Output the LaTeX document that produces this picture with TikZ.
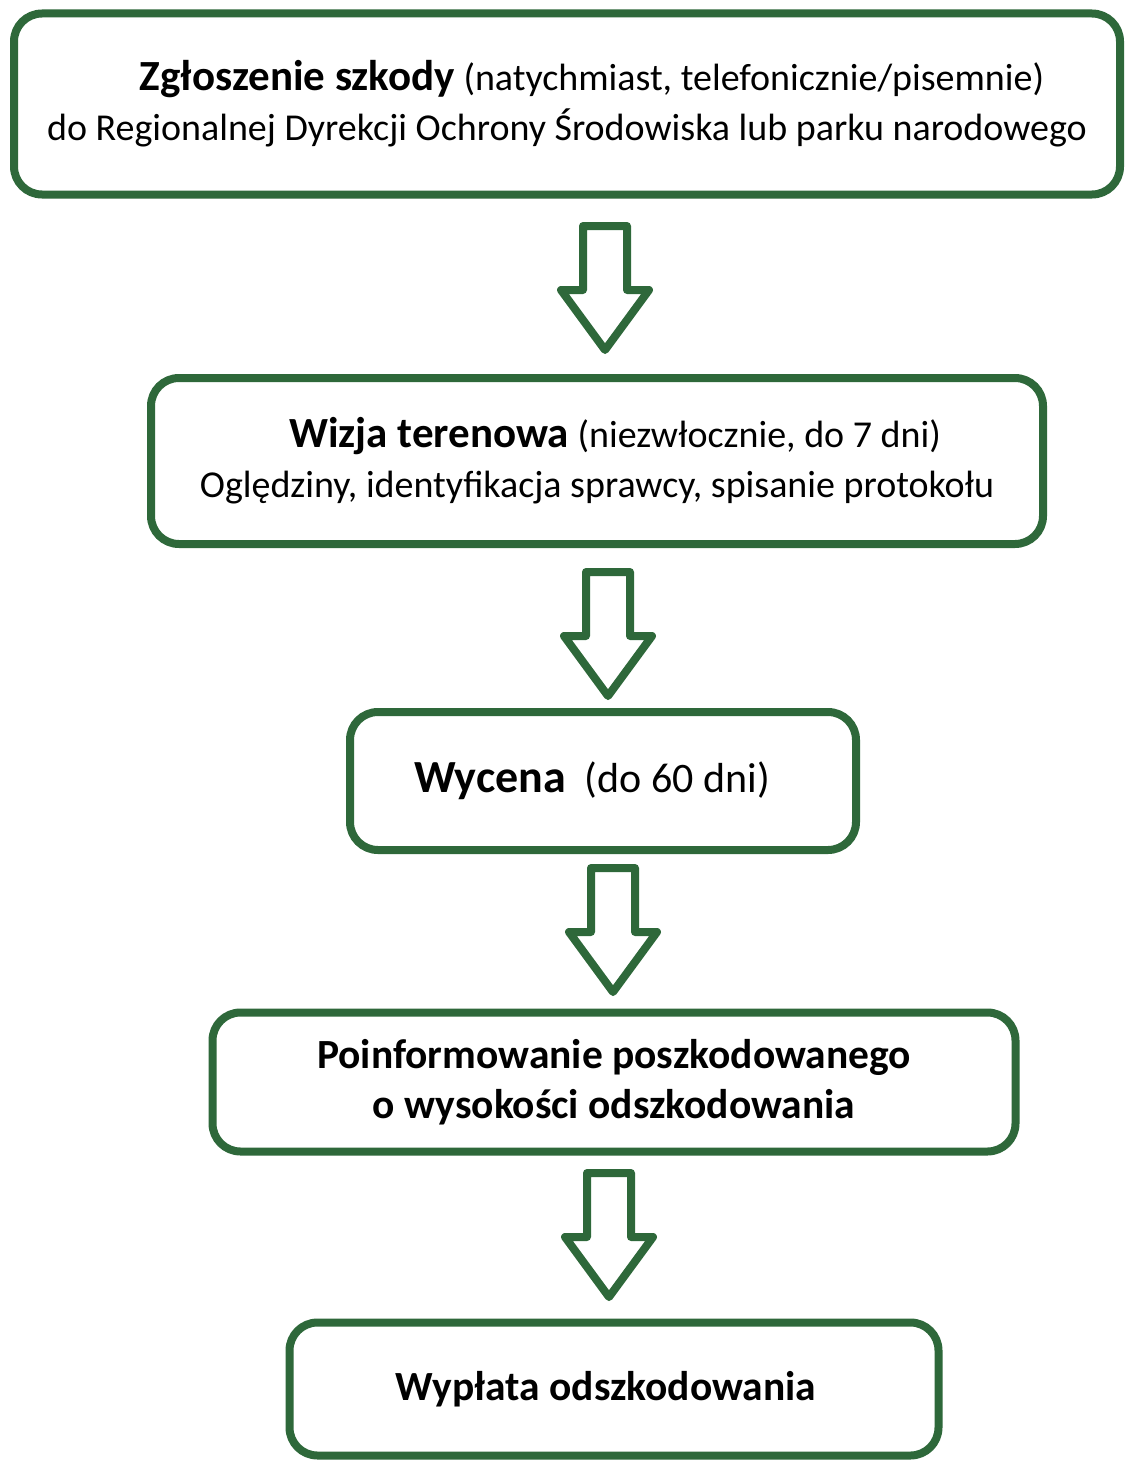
\documentclass[tikz,border=0pt]{standalone}
\usepackage{fontspec}
\setmainfont{Carlito}
\definecolor{boxgreen}{RGB}{46,104,58}
\newcommand{\fsbig}{\fontsize{43}{50}\selectfont\bfseries}
\tikzset{
  stepbox/.style={draw=boxgreen, line width=8pt, rounded corners=28pt, fill=white,
    align=center, inner sep=0pt, anchor=center, font=\fontsize{38}{50}\selectfont},
  blockarrow/.pic={
    \draw[draw=boxgreen, line width=8pt, line join=round, fill=white]
      (-22,0) -- (22,0) -- (22,64) -- (44,64) -- (0,124) -- (-44,64) -- (-22,64) -- cycle;
  }
}
\begin{document}
\begin{tikzpicture}[x=1pt,y=-1pt]
\useasboundingbox[fill=white] (0,0) rectangle (1126,1461);

\node[stepbox, minimum width=1106pt, minimum height=181pt] (b1) at (567,104)
  {\hspace*{50pt}{\fsbig Zgłoszenie szkody} (natychmiast, telefonicznie/pisemnie)\\
   do Regionalnej Dyrekcji Ochrony Środowiska lub parku narodowego};

\node[stepbox, minimum width=892pt, minimum height=166pt] (b2) at (597,461)
  {\hspace*{36pt}{\fsbig Wizja terenowa} (niezwłocznie, do 7 dni)\\
   Oględziny, identyfikacja sprawcy, spisanie protokołu};

\node[stepbox, minimum width=506pt, minimum height=138pt,
      font=\fontsize{42}{50}\selectfont] (b3) at (603,781)
  {\hspace*{-22pt}{\fontsize{46}{50}\selectfont\bfseries Wycena}\ \ (do 60 dni)};

\node[stepbox, minimum width=803pt, minimum height=139pt,
      font=\fontsize{41.5}{50}\selectfont\bfseries] (b4) at (614,1082)
  {Poinformowanie poszkodowanego\\
   o wysokości odszkodowania};

\node[stepbox, minimum width=649pt, minimum height=133pt,
      font=\fontsize{41.5}{50}\selectfont\bfseries] (b5) at (614,1389)
  {\hspace*{-16pt}Wypłata odszkodowania};

\pic at (605,226) {blockarrow};
\pic at (608,572) {blockarrow};
\pic at (613,868) {blockarrow};
\pic at (609,1173) {blockarrow};
\end{tikzpicture}
\end{document}
